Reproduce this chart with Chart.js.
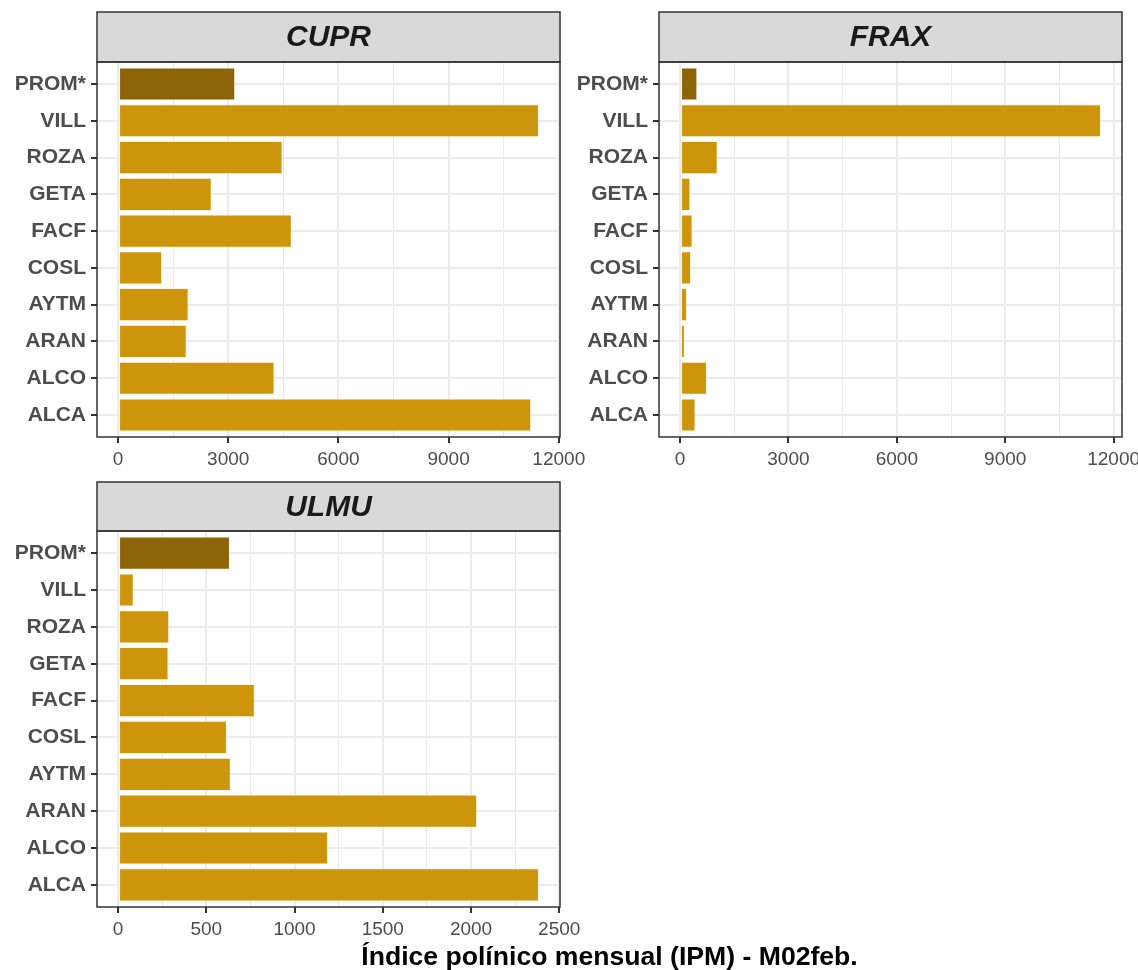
<!DOCTYPE html>
<html>
<head>
<meta charset="utf-8">
<script src="https://cdn.jsdelivr.net/npm/chart.js@4.4.1/dist/chart.umd.min.js"></script>
<style>
html, body { margin: 0; padding: 0; background: #ffffff; }
#wrap { position: relative; width: 1138px; height: 970px; background: #ffffff; }
#wrap canvas { position: absolute; left: 0; top: 0; }
</style>
</head>
<body>
<div id="wrap">
  <canvas id="c1" width="1138" height="970"></canvas>
  <canvas id="c2" width="1138" height="970"></canvas>
  <canvas id="c3" width="1138" height="970"></canvas>
</div>
<script>
// ---- data (bottom to top, as in the reference) ----
const categories = ['ALCA', 'ALCO', 'ARAN', 'AYTM', 'COSL', 'FACF', 'GETA', 'ROZA', 'VILL', 'PROM*'];
const cuprValues = [11250, 4260, 1870, 1920, 1200, 4730, 2550, 4480, 11460, 3190];
const fraxValues = [429, 745, 133, 194, 306, 347, 286, 1041, 11650, 479];
const ulmuValues = [2385, 1190, 2035, 639, 617, 775, 286, 290, 89, 634];
const cuprTicks = [0, 3000, 6000, 9000, 12000];
const fraxTicks = [0, 3000, 6000, 9000, 12000];
const ulmuTicks = [0, 500, 1000, 1500, 2000, 2500];
const panelTitles = ['CUPR', 'FRAX', 'ULMU'];
const axisTitle = 'Índice polínico mensual (IPM) - M02feb.';
const promLabel = 'PROM*';

// ---- styling ----
const BAR = '#CD950C';
const PROM = '#8B6508';
const GRID = '#EBEBEB';
const DARK = '#333333';
const TXT = '#4D4D4D';
const FONT = '"Liberation Sans", Arial, Helvetica, sans-serif';
const W = 1138, H = 970;
const Y_W = 97, X_H = 40;

const facetPlugin = {
  id: 'facet',
  afterDraw(chart, args, opts) {
    const ctx = chart.ctx;
    const a = chart.chartArea;
    ctx.save();
    // strip
    ctx.fillStyle = '#D9D9D9';
    ctx.fillRect(a.left, opts.stripTop, a.right - a.left, a.top - opts.stripTop);
    ctx.strokeStyle = DARK;
    ctx.lineWidth = 1.5;
    ctx.strokeRect(a.left, opts.stripTop, a.right - a.left, a.top - opts.stripTop);
    // panel border
    ctx.strokeRect(a.left, a.top, a.right - a.left, a.bottom - a.top);
    // strip text
    ctx.fillStyle = '#1A1A1A';
    ctx.font = 'italic bold 30px ' + FONT;
    ctx.textAlign = 'center';
    ctx.textBaseline = 'middle';
    ctx.fillText(opts.title, (a.left + a.right) / 2, (opts.stripTop + a.top) / 2 + 1);
    if (opts.axisTitle) {
      ctx.fillStyle = '#000000';
      ctx.font = 'bold 26.6px ' + FONT;
      ctx.fillText(opts.axisTitle, opts.axisTitleX, opts.axisTitleY);
    }
    ctx.restore();
  }
};

function makePanel(id, title, values, majors, area, stripTop, withAxisTitle) {
  const vmax = Math.max(...values);
  const minors = [];
  for (let i = 0; i < majors.length - 1; i++) minors.push((majors[i] + majors[i + 1]) / 2);
  const allTicks = majors.concat(minors).sort((p, q) => p - q);
  const isMajor = v => majors.includes(v);

  new Chart(document.getElementById(id), {
    type: 'bar',
    data: {
      datasets: [{
        data: values.map((v, i) => ({ x: v, y: i + 1 })),
        backgroundColor: categories.map(c => c === promLabel ? PROM : BAR),
        borderColor: 'rgba(255,236,190,0.45)',
        borderWidth: 1,
        borderSkipped: false,
        barPercentage: 0.9,
        categoryPercentage: 1.0
      }]
    },
    options: {
      indexAxis: 'y',
      responsive: false,
      animation: false,
      events: [],
      layout: {
        padding: {
          left: area.l - Y_W,
          right: W - area.r,
          top: area.t,
          bottom: H - area.b - X_H
        }
      },
      plugins: {
        legend: { display: false },
        tooltip: { enabled: false },
        facet: {
          title: title,
          stripTop: stripTop,
          axisTitle: withAxisTitle ? axisTitle : null,
          axisTitleX: (97 + 1122) / 2,
          axisTitleY: 958
        }
      },
      scales: {
        x: {
          type: 'linear',
          position: 'bottom',
          offset: false,
          min: -0.05 * vmax,
          max: 1.05 * vmax,
          afterBuildTicks: s => { s.ticks = allTicks.map(v => ({ value: v })); },
          afterFit: s => { s.height = X_H; s.paddingLeft = 0; s.paddingRight = 0; },
          border: { display: false },
          grid: {
            offset: false,
            color: GRID,
            lineWidth: c => (c.tick && isMajor(c.tick.value)) ? 2 : 1,
            tickColor: c => (c.tick && isMajor(c.tick.value)) ? DARK : 'rgba(0,0,0,0)',
            tickLength: 6,
            tickWidth: 2
          },
          ticks: {
            autoSkip: false,
            maxRotation: 0,
            padding: 5,
            color: TXT,
            font: { family: FONT, size: 19 },
            callback: v => isMajor(v) ? String(v) : ''
          }
        },
        y: {
          type: 'linear',
          position: 'left',
          offset: false,
          min: 0.4,
          max: categories.length + 0.6,
          afterBuildTicks: s => { s.ticks = categories.map((c, i) => ({ value: i + 1 })); },
          afterFit: s => { s.width = Y_W; s.paddingTop = 0; s.paddingBottom = 0; },
          border: { display: false },
          grid: {
            offset: false,
            color: GRID,
            lineWidth: 2,
            tickColor: DARK,
            tickLength: 6,
            tickWidth: 2
          },
          ticks: {
            autoSkip: false,
            padding: 5,
            color: TXT,
            font: { family: FONT, size: 21, weight: 'bold' },
            callback: v => categories[Math.round(v) - 1]
          }
        }
      }
    },
    plugins: [facetPlugin]
  });
}

makePanel('c1', panelTitles[0], cuprValues, cuprTicks, { l: 97, r: 560, t: 62, b: 437 }, 12, false);
makePanel('c2', panelTitles[1], fraxValues, fraxTicks, { l: 659, r: 1122, t: 62, b: 437 }, 12, false);
makePanel('c3', panelTitles[2], ulmuValues, ulmuTicks, { l: 97, r: 560, t: 531, b: 907 }, 482, true);
</script>
</body>
</html>
